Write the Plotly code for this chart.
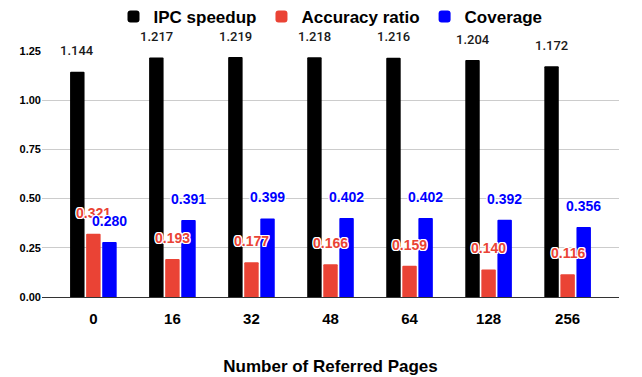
import plotly.graph_objects as go

categories = ["0", "16", "32", "48", "64", "128", "256"]
ipc_speedup = [1.144, 1.217, 1.219, 1.218, 1.216, 1.204, 1.172]
accuracy_ratio = [0.321, 0.193, 0.177, 0.166, 0.159, 0.140, 0.116]
coverage = [0.280, 0.391, 0.399, 0.402, 0.402, 0.392, 0.356]
y_ticks = [0, 0.25, 0.5, 0.75, 1.0, 1.25]

FONT = "Liberation Sans"
BLACK = "#000000"
RED = "#EA4335"
BLUE = "#0000FF"

fig = go.Figure()
series = [("IPC speedup", ipc_speedup, BLACK),
          ("Accuracy ratio", accuracy_ratio, RED),
          ("Coverage", coverage, BLUE)]
for name, vals, col in series:
    fig.add_trace(go.Bar(name=name, x=categories, y=vals, marker_color=col,
                         marker_line_width=0))

annotations = []
shifts = [-16, 0, 16]
halo = ("-1px -1px 0 #fff, 1px -1px 0 #fff, -1px 1px 0 #fff, 1px 1px 0 #fff, "
        "0 1px 0 #fff, 0 -1px 0 #fff, 1px 0 0 #fff, -1px 0 0 #fff")
for si, (name, vals, col) in enumerate(series):
    for ci, v in enumerate(vals):
        if si == 0:
            font = dict(family="Roboto", size=13, color="#1a1a1a", weight=500)
        else:
            font = dict(family=FONT, size=14, color=col, weight=700, shadow=halo)
        annotations.append(dict(x=ci, y=v, xref="x", yref="y", text=f"{v:.3f}",
                                showarrow=False, yanchor="middle", yshift=21,
                                xshift=shifts[si], font=font))

fig.update_layout(
    width=642, height=377,
    margin=dict(l=42, r=23, t=51, b=80, autoexpand=False),
    paper_bgcolor="white", plot_bgcolor="white",
    barmode="group", bargap=0.39, bargroupgap=0.1, barcornerradius=1.5,
    legend=dict(orientation="h", x=0.5, xanchor="center", y=1.138, yanchor="middle",
                font=dict(family=FONT, size=17, color="#000", weight=700),
                itemsizing="constant", traceorder="normal"),
    annotations=annotations,
    showlegend=True,
)
fig.update_xaxes(range=[-0.65, 6.65], showgrid=False, showline=True,
                 linecolor="#333333", linewidth=1, ticks="", ticklabelstandoff=8,
                 tickfont=dict(family=FONT, size=15, color="#000", weight=700),
                 title=dict(text="Number of Referred Pages", standoff=34,
                            font=dict(family=FONT, size=17, color="#000", weight=700)))
fig.update_yaxes(range=[0, 1.25], tickvals=y_ticks, tickformat=".2f",
                 showgrid=True, gridcolor="#cccccc", gridwidth=1,
                 zeroline=False, showline=False, ticks="",
                 tickfont=dict(family=FONT, size=11, color="#000", weight=700))

fig.write_html("out.html", config={"displayModeBar": False},
               post_script="document.body.style.margin='0';")
